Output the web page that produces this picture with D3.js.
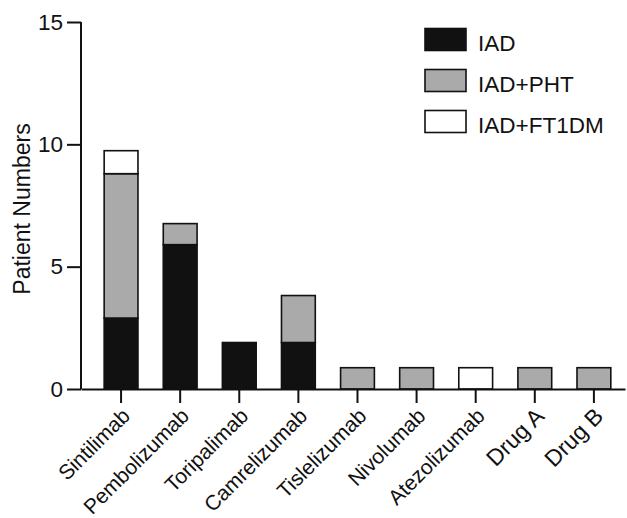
<!DOCTYPE html>
<html>
<head>
<meta charset="utf-8">
<script src="https://cdn.jsdelivr.net/npm/d3@7"></script>
<style>
	body { margin: 0; background: #fff; }
	svg text { font-family: "Liberation Sans", Arial, sans-serif; fill: #111; }
</style>
</head>
<body>
<svg id="canvas" width="627" height="518"></svg>
<script>
// values
var drugs = ["Sintilimab", "Pembolizumab", "Toripalimab", "Camrelizumab", "Tislelizumab",
	"Nivolumab", "Atezolizumab", "Drug A", "Drug B"];
var iad = [2.9, 5.9, 1.9, 1.9, 0, 0, 0, 0, 0];
var iadPht = [5.9, 0.86, 0, 1.92, 0.87, 0.87, 0, 0.87, 0.87];
var iadFt1dm = [0.94, 0, 0, 0, 0, 0, 0.87, 0, 0];
var seriesNames = ["IAD", "IAD+PHT", "IAD+FT1DM"];
var seriesColors = ["#111111", "#aaaaaa", "#ffffff"];
var yTicks = [0, 5, 10, 15];

function draw(){
	var svg = d3.select("#canvas");
	var ink = "#111";

	var x = d3.scaleBand()
		.domain(drugs)
		.range([81, 625])
		.paddingInner(0.428)
		.paddingOuter(0.316)
		.align(0.62);
	var y = d3.scaleLinear().domain([0, 15]).range([389, 22]);

	var rows = drugs.map(function(d, i){
		return {drug: d, "IAD": iad[i], "IAD+PHT": iadPht[i], "IAD+FT1DM": iadFt1dm[i]};
	});
	var stacked = d3.stack().keys(seriesNames)(rows);

	// bars
	var groups = svg.append("g").selectAll("g")
		.data(stacked)
		.enter()
		.append("g")
			.attr("fill", function(d, i){ return seriesColors[i]; });

	groups.selectAll("rect")
		.data(function(d){ return d.filter(function(p){ return p[1] - p[0] > 0; }); })
		.enter()
		.append("rect")
			.attr("x", function(p){ return x(p.data.drug); })
			.attr("width", x.bandwidth())
			.attr("y", function(p){ return y(p[1]); })
			.attr("height", function(p){ return y(p[0]) - y(p[1]); })
			.attr("stroke", ink)
			.attr("stroke-width", 1.6);

	// y axis
	var yAxis = svg.append("g")
		.attr("transform", "translate(81,0)")
		.call(d3.axisLeft(y).tickValues(yTicks).tickSize(14).tickPadding(4));
	yAxis.selectAll("path, line").attr("stroke", ink).attr("stroke-width", 2);
	yAxis.select(".domain").attr("d", "M0," + y(15) + "V" + y(0));
	yAxis.selectAll("text")
		.attr("font-size", 22.5)
		.attr("font-family", "Liberation Sans, Arial, sans-serif")
		.attr("fill", ink);

	// x axis
	var xAxis = svg.append("g")
		.attr("transform", "translate(0,389)")
		.call(d3.axisBottom(x).tickSize(14).tickSizeOuter(0));
	xAxis.selectAll("path, line").attr("stroke", ink).attr("stroke-width", 2);
	xAxis.selectAll("text")
		.attr("font-size", function(d){ return d.indexOf("Drug") === 0 ? 23 : 21; })
		.attr("font-family", "Liberation Sans, Arial, sans-serif")
		.attr("fill", ink)
		.attr("text-anchor", "end")
		.attr("y", 0)
		.attr("dy", "0.35em")
		.attr("transform", "translate(5,23) rotate(-45)");

	// axis title
	svg.append("text")
		.attr("transform", "translate(30,209) rotate(-90)")
		.attr("text-anchor", "middle")
		.attr("font-size", 23)
		.text("Patient Numbers");

	// legend
	var legend = svg.append("g").selectAll("g")
		.data(seriesNames)
		.enter()
		.append("g")
			.attr("transform", function(d, i){ return "translate(425," + (28.5 + i * 41) + ")"; });
	legend.append("rect")
		.attr("width", 41)
		.attr("height", 22)
		.attr("fill", function(d, i){ return seriesColors[i]; })
		.attr("stroke", ink)
		.attr("stroke-width", 1.6);
	legend.append("text")
		.attr("x", 53)
		.attr("y", 22)
		.attr("font-size", 22.5)
		.text(function(d){ return d; });
}

draw();
</script>
</body>
</html>
